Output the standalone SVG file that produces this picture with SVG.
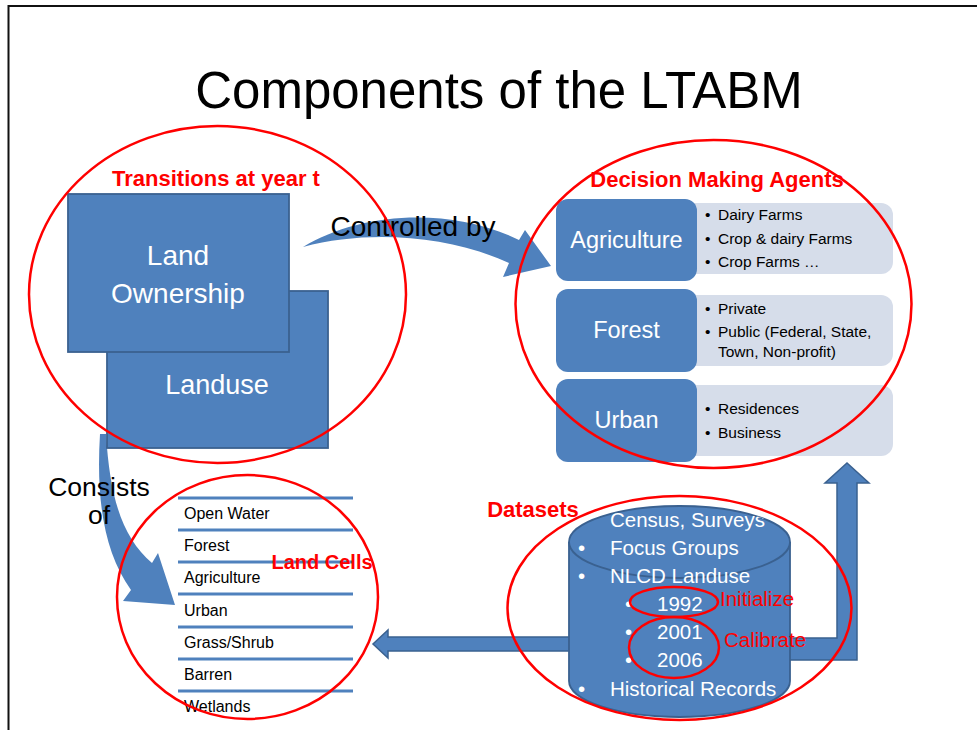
<svg xmlns="http://www.w3.org/2000/svg" width="977" height="730" viewBox="0 0 977 730">
<style>
text{font-family:"Liberation Sans",Arial,sans-serif}
.blk{fill:#4F81BD;stroke:#3A6190;stroke-width:1.8}
.agent{fill:#4F81BD}
.panel{fill:#D6DDEA}
.wt{fill:#ffffff}
.bt{fill:#000000}
.red{fill:none;stroke:#FF0000;stroke-width:2.5}
.rl{fill:#FF0000;font-weight:bold}
.rn{fill:#FF0000}
.row{stroke:#4F81BD;stroke-width:3}
.arr{fill:#4F81BD;stroke:#3A6190;stroke-width:1.5}
.carr{fill:#4F81BD}
</style>
<defs>
<clipPath id="cyl">
<path d="M569 542 A110.5 36 0 0 1 790 542 L790 681 A110.5 36 0 0 1 569 681 Z"/>
</clipPath>
</defs>
<rect x="0" y="0" width="977" height="730" fill="#ffffff"/>
<path d="M8.5 730 L8.5 6 L977 6" fill="none" stroke="#111" stroke-width="2"/>
<text x="499" y="108" font-size="51" text-anchor="middle" class="bt">Components of the LTABM</text>

<g id="connectors">
<path class="carr" d="M303 247 C360 212 450 206 519 240 L525 230 L551 266 L503 277 L509 263 C450 236 370 229 303 247 Z"/>
<path class="carr" d="M100 434 C96 500 104 552 131 590 L123 601 L175 605 L158 553 L152 563 C123 538 110 500 106 434 Z"/>
<path class="arr" d="M575 637 L388 637 L388 630 L373 644 L388 658 L388 651 L575 651 Z"/>
<path class="arr" d="M785 638 L837 638 L837 483 L825 483 L847 463 L869 483 L857 483 L857 660 L785 660 Z"/>
<text x="413" y="236" font-size="28" text-anchor="middle" class="bt">Controlled by</text>
<text x="99" y="496" font-size="26.5" text-anchor="middle" class="bt">Consists</text>
<text x="99" y="524" font-size="26.5" text-anchor="middle" class="bt">of</text>
</g>

<g id="transitions">
<rect class="blk" x="107" y="291" width="221" height="157"/>
<rect class="blk" x="68" y="194" width="221" height="158"/>
<text x="178" y="265" font-size="28" text-anchor="middle" class="wt">Land</text>
<text x="178" y="303" font-size="28" text-anchor="middle" class="wt">Ownership</text>
<text x="217" y="394" font-size="27" text-anchor="middle" class="wt">Landuse</text>
<ellipse class="red" cx="217.5" cy="294.5" rx="188.5" ry="168.5"/>
<text x="216" y="186" font-size="22" text-anchor="middle" class="rl">Transitions at year t</text>
</g>

<g id="agents">
<rect class="panel" x="680" y="203" width="213" height="71" rx="12"/>
<rect class="panel" x="680" y="295" width="213" height="71" rx="12"/>
<rect class="panel" x="680" y="385" width="213" height="71" rx="12"/>
<rect class="agent" x="556" y="199" width="141" height="82" rx="12"/>
<rect class="agent" x="556" y="289" width="141" height="83" rx="12"/>
<rect class="agent" x="556" y="379" width="141" height="83" rx="12"/>
<text x="626.5" y="248" font-size="23.5" text-anchor="middle" class="wt">Agriculture</text>
<text x="626.5" y="338" font-size="23.5" text-anchor="middle" class="wt">Forest</text>
<text x="626.5" y="428" font-size="23.5" text-anchor="middle" class="wt">Urban</text>
<g font-size="15.5" class="bt">
<text x="705" y="220">•</text><text x="718" y="220">Dairy Farms</text>
<text x="705" y="244">•</text><text x="718" y="244">Crop &amp; dairy Farms</text>
<text x="705" y="267">•</text><text x="718" y="267">Crop Farms …</text>
<text x="705" y="314">•</text><text x="718" y="314">Private</text>
<text x="705" y="337">•</text><text x="718" y="337">Public (Federal, State,</text>
<text x="718" y="357">Town, Non-profit)</text>
<text x="705" y="414">•</text><text x="718" y="414">Residences</text>
<text x="705" y="438">•</text><text x="718" y="438">Business</text>
</g>
<ellipse class="red" cx="713.5" cy="304" rx="198" ry="164"/>
<text x="717" y="187" font-size="22" text-anchor="middle" class="rl">Decision Making Agents</text>
</g>

<g id="landcells">
<line class="row" x1="178" y1="498" x2="353" y2="498"/>
<line class="row" x1="178" y1="530" x2="353" y2="530"/>
<line class="row" x1="178" y1="562" x2="353" y2="562"/>
<line class="row" x1="178" y1="594" x2="353" y2="594"/>
<line class="row" x1="178" y1="627" x2="353" y2="627"/>
<line class="row" x1="178" y1="659" x2="353" y2="659"/>
<line class="row" x1="178" y1="691" x2="353" y2="691"/>
<g font-size="16" class="bt">
<text x="184" y="519">Open Water</text>
<text x="184" y="551">Forest</text>
<text x="184" y="583">Agriculture</text>
<text x="184" y="616">Urban</text>
<text x="184" y="648">Grass/Shrub</text>
<text x="184" y="680">Barren</text>
<text x="184" y="712">Wetlands</text>
</g>
<text x="322" y="569" font-size="20" text-anchor="middle" class="rl">Land Cells</text>
<ellipse class="red" cx="247.5" cy="597" rx="130.5" ry="122"/>
</g>

<g id="datasets">
<path class="blk" d="M569 542 A110.5 36 0 0 1 790 542 L790 681 A110.5 36 0 0 1 569 681 Z"/>
<path d="M569 542 A110.5 36 0 0 0 790 542" fill="none" stroke="#3A6190" stroke-width="1.8"/>
<g clip-path="url(#cyl)" font-size="20.5" class="wt">
<text x="578" y="527">•</text><text x="610" y="527">Census, Surveys</text>
</g>
<g font-size="20.5" class="wt">
<text x="578" y="555">•</text><text x="610" y="555">Focus Groups</text>
<text x="578" y="583">•</text><text x="610" y="583">NLCD Landuse</text>
<text x="625" y="611">•</text><text x="657" y="611">1992</text>
<text x="625" y="639">•</text><text x="657" y="639">2001</text>
<text x="625" y="667">•</text><text x="657" y="667">2006</text>
<text x="578" y="696">•</text><text x="610" y="696">Historical Records</text>
</g>
<ellipse class="red" cx="674" cy="602" rx="44" ry="15"/>
<ellipse class="red" cx="674" cy="647.5" rx="45" ry="30.5"/>
<text x="720" y="606" font-size="20.5" class="rn">Initialize</text>
<text x="724" y="647" font-size="20.5" class="rn">Calibrate</text>
<ellipse class="red" cx="679.5" cy="608" rx="172" ry="112"/>
<text x="533" y="517" font-size="22" text-anchor="middle" class="rl">Datasets</text>
</g>
</svg>
